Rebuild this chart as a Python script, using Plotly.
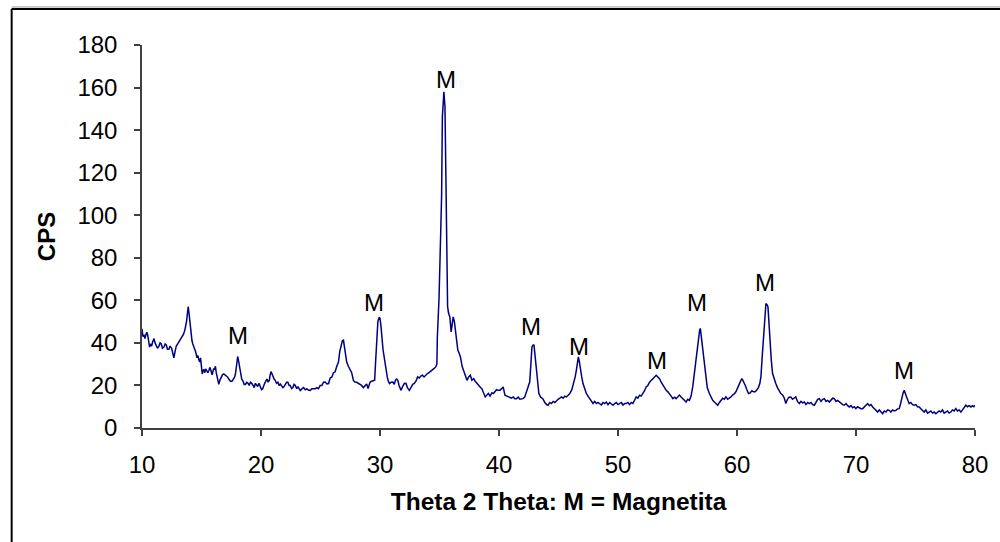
import plotly.graph_objects as go

# ---- data ----
two_theta = [
    10.00, 10.08, 10.17, 10.25, 10.31, 10.40, 10.47, 10.55, 10.64, 10.72, 10.81, 10.90, 11.01, 11.10, 11.20, 11.30,
    11.42, 11.52, 11.62, 11.72, 11.84, 11.94, 12.04, 12.14, 12.26, 12.36, 12.49, 12.58, 12.68, 12.78, 12.88, 13.00,
    13.10, 13.20, 13.30, 13.38, 13.48, 13.60, 13.68, 13.74, 13.82, 13.88, 13.95, 14.02, 14.08, 14.13, 14.20, 14.27,
    14.38, 14.50, 14.62, 14.70, 14.78, 14.86, 14.92, 15.00, 15.06, 15.13, 15.20, 15.28, 15.34, 15.44, 15.53, 15.62,
    15.70, 15.80, 15.89, 15.96, 16.03, 16.10, 16.17, 16.24, 16.31, 16.38, 16.45, 16.55, 16.65, 16.76, 16.87, 16.98,
    17.09, 17.19, 17.29, 17.43, 17.57, 17.68, 17.79, 17.87, 17.93, 18.00, 18.04, 18.10, 18.16, 18.22, 18.27, 18.38,
    18.49, 18.59, 18.69, 18.80, 18.91, 19.01, 19.11, 19.22, 19.33, 19.43, 19.53, 19.62, 19.72, 19.83, 19.94, 20.04,
    20.14, 20.22, 20.31, 20.40, 20.50, 20.60, 20.70, 20.77, 20.84, 20.92, 21.01, 21.10, 21.20, 21.31, 21.42, 21.52,
    21.62, 21.73, 21.84, 21.94, 22.04, 22.15, 22.26, 22.36, 22.46, 22.57, 22.68, 22.78, 22.88, 23.00, 23.10, 23.20,
    23.30, 23.46, 23.58, 23.72, 23.85, 24.02, 24.13, 24.27, 24.41, 24.57, 24.69, 24.83, 24.97, 25.12, 25.25, 25.40,
    25.53, 25.68, 25.81, 25.96, 26.09, 26.23, 26.37, 26.51, 26.62, 26.73, 26.84, 26.93, 27.01, 27.12, 27.20, 27.34,
    27.49, 27.62, 27.77, 27.89, 28.04, 28.18, 28.31, 28.45, 28.60, 28.73, 28.88, 29.00, 29.16, 29.30, 29.42, 29.55,
    29.62, 29.72, 29.82, 29.92, 30.00, 30.08, 30.16, 30.25, 30.39, 30.50, 30.61, 30.70, 30.80, 30.94, 31.08, 31.20,
    31.30, 31.40, 31.50, 31.60, 31.77, 31.90, 32.05, 32.19, 32.30, 32.47, 32.60, 32.75, 32.88, 33.02, 33.16, 33.30,
    33.45, 33.57, 33.70, 33.85, 33.99, 34.12, 34.25, 34.40, 34.55, 34.68, 34.78, 34.82, 34.96, 35.10, 35.18, 35.24,
    35.30, 35.37, 35.46, 35.52, 35.57, 35.62, 35.68, 35.76, 35.87, 35.98, 36.05, 36.15, 36.25, 36.34, 36.44, 36.54,
    36.66, 36.76, 36.90, 37.04, 37.18, 37.31, 37.45, 37.59, 37.72, 37.87, 38.00, 38.14, 38.30, 38.45, 38.56, 38.70,
    38.84, 38.98, 39.11, 39.25, 39.40, 39.53, 39.68, 39.80, 39.94, 40.08, 40.22, 40.35, 40.50, 40.65, 40.78, 40.91,
    41.05, 41.20, 41.33, 41.47, 41.62, 41.75, 41.89, 42.02, 42.16, 42.30, 42.45, 42.58, 42.68, 42.77, 42.86, 42.94,
    43.03, 43.13, 43.24, 43.35, 43.50, 43.68, 43.85, 44.00, 44.13, 44.27, 44.41, 44.55, 44.69, 44.83, 44.97, 45.11,
    45.25, 45.39, 45.53, 45.67, 45.81, 45.95, 46.12, 46.28, 46.40, 46.50, 46.58, 46.67, 46.76, 46.84, 46.95, 47.06,
    47.20, 47.34, 47.48, 47.62, 47.76, 47.90, 48.04, 48.18, 48.32, 48.46, 48.60, 48.74, 48.88, 49.02, 49.16, 49.30,
    49.44, 49.58, 49.72, 49.86, 50.00, 50.14, 50.28, 50.42, 50.56, 50.69, 50.83, 50.97, 51.11, 51.25, 51.39, 51.53,
    51.67, 51.81, 51.95, 52.09, 52.23, 52.37, 52.51, 52.65, 52.79, 52.93, 53.07, 53.21, 53.35, 53.49, 53.63, 53.77,
    53.91, 54.05, 54.19, 54.33, 54.47, 54.61, 54.75, 54.88, 55.02, 55.16, 55.30, 55.44, 55.58, 55.72, 55.86, 56.00,
    56.14, 56.28, 56.42, 56.56, 56.68, 56.78, 56.86, 56.92, 57.02, 57.12, 57.22, 57.34, 57.50, 57.68, 57.82, 57.96,
    58.10, 58.24, 58.38, 58.52, 58.66, 58.80, 58.94, 59.07, 59.21, 59.35, 59.49, 59.63, 59.77, 59.91, 60.05, 60.19,
    60.30, 60.42, 60.55, 60.69, 60.83, 60.97, 61.11, 61.25, 61.39, 61.53, 61.67, 61.80, 61.92, 62.01, 62.10, 62.23,
    62.33, 62.43, 62.52, 62.60, 62.68, 62.76, 62.88, 62.99, 63.12, 63.26, 63.40, 63.54, 63.68, 63.85, 63.98, 64.10,
    64.24, 64.38, 64.52, 64.66, 64.80, 64.94, 65.08, 65.24, 65.38, 65.52, 65.66, 65.80, 65.94, 66.08, 66.22, 66.36,
    66.50, 66.64, 66.78, 66.92, 67.06, 67.20, 67.34, 67.48, 67.62, 67.76, 67.90, 68.04, 68.18, 68.32, 68.46, 68.60,
    68.74, 68.88, 69.02, 69.16, 69.30, 69.44, 69.58, 69.72, 69.86, 69.99, 70.13, 70.27, 70.42, 70.56, 70.70, 70.84,
    70.98, 71.12, 71.26, 71.40, 71.54, 71.68, 71.82, 71.96, 72.10, 72.24, 72.38, 72.52, 72.66, 72.79, 72.93, 73.07,
    73.21, 73.35, 73.49, 73.63, 73.75, 73.86, 73.96, 74.05, 74.15, 74.25, 74.36, 74.47, 74.61, 74.75, 74.89, 75.03,
    75.17, 75.31, 75.45, 75.59, 75.73, 75.87, 76.01, 76.15, 76.29, 76.43, 76.57, 76.71, 76.85, 76.99, 77.13, 77.27,
    77.41, 77.55, 77.69, 77.83, 77.97, 78.11, 78.25, 78.39, 78.53, 78.67, 78.81, 78.95, 79.09, 79.23, 79.37, 79.51,
    79.65, 79.79, 79.90, 80.00,
]

cps = [
    46.6, 43.0, 43.5, 42.0, 43.5, 45.0, 44.0, 40.0, 38.0, 39.5, 38.5, 40.5, 42.0, 40.0, 39.0, 37.5,
    38.5, 40.0, 39.5, 37.5, 38.0, 39.5, 39.0, 37.0, 37.0, 38.5, 37.5, 35.0, 33.0, 36.0, 38.5, 39.5,
    40.5, 41.5, 42.0, 43.5, 44.0, 46.0, 48.0, 50.0, 54.0, 57.0, 54.0, 50.0, 46.0, 43.0, 41.0, 39.5,
    38.0, 36.0, 33.0, 34.0, 32.0, 31.0, 33.0, 29.0, 25.4, 27.0, 27.5, 26.0, 27.8, 27.0, 26.0, 27.0,
    28.5, 27.0, 25.0, 26.5, 28.0, 27.5, 29.0, 26.0, 24.0, 22.0, 20.5, 22.5, 24.0, 25.0, 25.4, 25.0,
    24.5, 24.0, 23.0, 22.0, 22.0, 23.0, 24.0, 26.0, 29.0, 32.0, 33.6, 32.0, 30.0, 27.0, 25.4, 23.0,
    22.0, 20.5, 20.5, 21.5, 21.0, 20.0, 21.5, 21.0, 20.0, 19.0, 21.0, 20.0, 19.5, 21.0, 19.0, 18.0,
    18.4, 20.0, 21.0, 22.0, 23.0, 21.5, 22.5, 25.0, 26.5, 25.5, 24.0, 23.0, 22.3, 21.0, 21.5, 20.0,
    20.7, 19.5, 19.0, 19.5, 20.7, 21.5, 21.5, 20.0, 20.0, 18.5, 19.0, 20.5, 20.0, 18.5, 19.5, 18.5,
    17.6, 18.5, 19.0, 18.0, 18.4, 17.7, 17.6, 18.5, 18.5, 18.5, 19.0, 18.5, 20.0, 20.0, 21.5, 21.6,
    20.7, 20.9, 23.5, 24.0, 26.0, 26.4, 29.0, 31.0, 36.0, 38.9, 41.0, 41.3, 38.5, 36.0, 31.0, 29.0,
    27.0, 26.0, 22.3, 21.6, 21.5, 21.0, 20.9, 20.0, 19.0, 20.0, 20.7, 18.5, 21.5, 22.0, 22.4, 22.5,
    30.0, 40.0, 50.0, 52.0, 51.5, 48.0, 42.0, 37.0, 31.9, 27.0, 24.0, 22.0, 20.9, 21.5, 21.6, 20.5,
    22.5, 23.0, 22.4, 20.0, 17.7, 19.5, 21.0, 20.9, 19.0, 17.7, 19.0, 20.5, 20.9, 22.0, 24.0, 23.5,
    24.5, 24.8, 24.0, 25.0, 25.6, 26.0, 26.5, 27.1, 28.0, 28.7, 30.0, 42.8, 60.9, 91.5, 110.0, 146.0,
    155.0, 158.0, 151.0, 130.0, 110.0, 85.0, 57.0, 54.0, 52.2, 45.2, 48.0, 52.2, 50.0, 46.0, 41.0, 36.6,
    35.0, 33.4, 29.0, 26.4, 24.0, 22.4, 24.0, 24.8, 22.5, 23.2, 22.0, 20.9, 20.0, 19.0, 18.5, 16.0,
    14.6, 15.5, 16.2, 15.0, 16.5, 16.2, 17.0, 18.0, 17.7, 17.7, 18.5, 19.3, 15.4, 15.0, 14.6, 14.6,
    14.0, 14.6, 13.8, 13.8, 14.5, 13.5, 13.8, 13.8, 14.5, 16.9, 19.0, 21.6, 30.0, 38.1, 39.0, 38.9,
    34.0, 28.7, 21.0, 16.2, 14.5, 13.8, 12.0, 11.0, 10.7, 12.0, 11.5, 12.5, 12.0, 13.0, 13.5, 14.0,
    14.6, 14.0, 15.0, 14.6, 15.5, 16.2, 18.0, 20.9, 24.0, 27.1, 30.5, 33.4, 31.0, 27.1, 24.0, 20.9,
    18.0, 16.2, 15.0, 13.8, 12.5, 11.5, 12.5, 11.5, 12.0, 11.5, 10.8, 12.0, 11.5, 12.2, 11.0, 12.0,
    11.5, 10.7, 11.5, 12.0, 11.0, 11.5, 12.0, 10.8, 11.5, 11.5, 12.0, 11.0, 12.0, 11.5, 13.0, 14.6,
    14.0, 15.4, 15.0, 16.2, 17.5, 19.3, 20.0, 21.5, 22.4, 23.0, 24.0, 24.8, 24.0, 23.2, 21.5, 20.1,
    19.0, 17.7, 17.0, 16.2, 15.0, 13.8, 14.5, 13.8, 14.5, 15.5, 14.6, 13.5, 13.0, 12.2, 13.5, 13.0,
    15.0, 19.3, 26.0, 33.4, 40.0, 44.4, 46.0, 46.8, 42.0, 36.6, 30.0, 24.0, 19.0, 16.2, 14.5, 13.0,
    12.2, 11.5, 10.7, 12.0, 13.0, 14.0, 13.5, 14.6, 13.5, 14.0, 14.6, 15.5, 16.0, 17.0, 19.0, 20.9,
    22.0, 23.2, 22.0, 20.1, 18.0, 16.2, 16.5, 17.5, 17.0, 17.0, 18.0, 19.0, 21.0, 24.0, 32.0, 42.8,
    50.0, 58.5, 58.0, 57.0, 50.0, 41.3, 32.0, 25.6, 23.0, 20.9, 19.0, 17.5, 16.2, 15.4, 14.0, 11.5,
    13.5, 14.5, 14.6, 13.5, 14.0, 14.6, 12.5, 11.5, 12.5, 11.8, 12.2, 11.0, 12.0, 11.5, 12.0, 11.0,
    10.7, 12.0, 13.5, 13.8, 12.5, 13.5, 13.8, 12.5, 13.0, 12.2, 13.0, 14.0, 13.8, 12.5, 13.0, 12.2,
    11.5, 11.0, 10.7, 11.5, 10.5, 9.9, 10.5, 9.5, 10.0, 9.1, 10.0, 9.5, 9.1, 9.1, 10.0, 11.0,
    11.5, 10.5, 11.0, 9.9, 9.0, 8.5, 7.5, 8.5, 7.5, 6.7, 8.0, 7.5, 8.5, 8.3, 7.5, 8.5,
    8.0, 8.3, 9.0, 9.1, 11.5, 14.6, 16.5, 17.7, 16.5, 14.6, 13.0, 11.5, 12.0, 11.0, 10.7, 11.0,
    10.0, 9.9, 9.0, 8.0, 7.5, 8.5, 7.0, 7.5, 8.0, 7.0, 7.5, 6.7, 7.5, 8.0, 7.5, 8.5,
    7.0, 7.5, 8.0, 7.0, 7.5, 8.5, 8.0, 9.1, 8.0, 8.5, 7.5, 8.5, 9.5, 10.7, 10.0, 10.5,
    9.9, 10.5, 10.0, 10.7,
]

# "M" (magnetite) peak labels
label_x = [18.10, 29.51, 35.53, 42.71, 46.75, 53.29, 56.68, 62.39, 74.03]
label_y = [43.6, 59.1, 164.0, 47.5, 38.1, 31.8, 59.1, 68.2, 26.8]
label_text = ["M"] * len(label_x)

x_ticks = [10, 20, 30, 40, 50, 60, 70, 80]
y_ticks = [0, 20, 40, 60, 80, 100, 120, 140, 160, 180]

x_title = "Theta 2 Theta: M = Magnetita"
y_title = "CPS"

FONT = "Arial, 'Liberation Sans', sans-serif"

fig = go.Figure()
fig.add_trace(go.Scatter(
    x=two_theta, y=cps, mode="lines",
    line=dict(color="#000080", width=1.5),
    showlegend=False, hoverinfo="x+y",
))

for lx, ly, lt in zip(label_x, label_y, label_text):
    fig.add_annotation(x=lx, y=ly, text=lt, showarrow=False,
                       xanchor="center", yanchor="middle",
                       font=dict(family=FONT, size=24, color="black"))

axis_common = dict(
    showgrid=False, zeroline=False, showline=True,
    linecolor="#404040", linewidth=1.5,
    ticks="outside", ticklen=6, tickwidth=1.5, tickcolor="#404040",
    tickfont=dict(family=FONT, size=24, color="black"),
)

fig.update_xaxes(range=[10, 80], tickvals=x_ticks, ticklabelstandoff=8,
                 title=dict(text="<b>" + x_title + "</b>", standoff=16,
                            font=dict(family=FONT, size=24.5, color="black")),
                 **axis_common)
fig.update_yaxes(range=[0, 180], tickvals=y_ticks, ticklabelstandoff=12,
                 title=dict(text="<b>" + y_title + "</b>", standoff=15,
                            font=dict(family=FONT, size=24, color="black")),
                 **axis_common)

# outer chart frame (left and top edges visible)
left_px, top_px = 11, 9
plot_l, plot_r, plot_t, plot_b = 141.5, 975.5, 45.0, 427.7
xp = (left_px - plot_l) / (plot_r - plot_l)
yp = (plot_b - top_px) / (plot_b - plot_t)
yp_gray = (plot_b - (top_px - 2)) / (plot_b - plot_t)
fig.add_shape(type="line", xref="paper", yref="paper", x0=xp, x1=1.1, y0=yp_gray, y1=yp_gray,
              line=dict(color="#999999", width=1))
fig.add_shape(type="line", xref="paper", yref="paper", x0=xp, x1=1.1, y0=yp, y1=yp,
              line=dict(color="black", width=2))
fig.add_shape(type="line", xref="paper", yref="paper", x0=xp, x1=xp, y0=-0.4, y1=yp,
              line=dict(color="black", width=2))

fig.update_layout(
    width=1000, height=542,
    margin=dict(l=plot_l, r=1000 - plot_r, t=plot_t, b=542 - plot_b, pad=0),
    plot_bgcolor="white", paper_bgcolor="white",
    font=dict(family=FONT, color="black"),
)

# remove the page's default 8px body margin so the figure sits at (0, 0)
fig.write_html(
    "out.html",
    config={"displayModeBar": False},
    post_script="document.body.style.margin='0px';document.body.style.overflow='hidden';",
)
